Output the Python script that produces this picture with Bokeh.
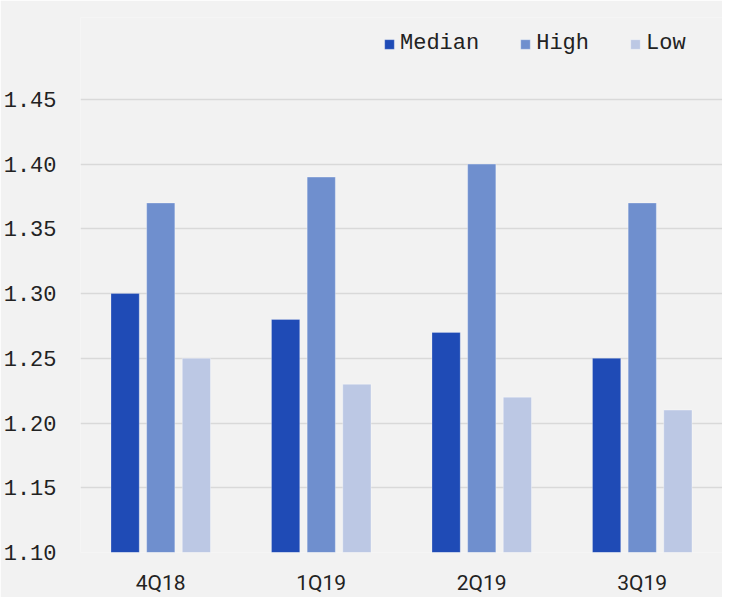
from bokeh.plotting import figure
from bokeh.models import ColumnDataSource, FactorRange, Range1d, FixedTicker, PrintfTickFormatter, Legend, LegendItem
from bokeh.transform import dodge
from bokeh.embed import file_html
from bokeh.resources import INLINE

quarters = ["4Q18", "1Q19", "2Q19", "3Q19"]
median = [1.30, 1.28, 1.27, 1.25]
high = [1.37, 1.39, 1.40, 1.37]
low = [1.25, 1.23, 1.22, 1.21]
y_ticks = [1.10, 1.15, 1.20, 1.25, 1.30, 1.35, 1.40, 1.45]

src = ColumnDataSource(dict(q=quarters, median=median, high=high, low=low))

BG = "#f2f2f2"
p = figure(x_range=FactorRange(*quarters, range_padding=0), y_range=Range1d(1.10, 1.5132),
           width=722, height=597, output_backend="svg", toolbar_location=None,
           background_fill_color=BG, border_fill_color=BG,
           min_border_left=75, min_border_right=0, min_border_top=17, min_border_bottom=44)
p.outline_line_color = None

bw = 0.176
r1 = p.vbar(x=dodge("q", -0.222, range=p.x_range), top="median", bottom=1.10, width=bw, source=src,
            fill_color="#1f4bb6", line_color="#ffffff", line_alpha=0.25)
r2 = p.vbar(x=dodge("q", 0.0, range=p.x_range), top="high", bottom=1.10, width=bw, source=src,
            fill_color="#6f8fce", line_color="#ffffff", line_alpha=0.35)
r3 = p.vbar(x=dodge("q", 0.222, range=p.x_range), top="low", bottom=1.10, width=bw, source=src,
            fill_color="#bcc8e4", line_color="#ffffff", line_alpha=0.35)

p.yaxis.ticker = FixedTicker(ticks=y_ticks)
p.yaxis.formatter = PrintfTickFormatter(format="%.2f")
p.yaxis.axis_line_color = None
p.yaxis.major_tick_line_color = None
p.yaxis.minor_tick_line_color = None
p.yaxis.major_label_text_font = "Liberation Mono"
p.yaxis.major_label_text_font_size = "22px"
p.yaxis.major_label_text_color = "#222222"
p.yaxis.major_label_standoff = 18

p.xaxis.axis_line_color = None
p.xaxis.major_tick_line_color = None
p.xaxis.major_label_text_font = "Roboto"
p.xaxis.major_label_text_font_size = "21px"
p.xaxis.major_label_text_color = "#222222"
p.xaxis.major_label_standoff = 12

p.xgrid.grid_line_color = None
p.ygrid.grid_line_color = "#d9d9d9"
p.ygrid.grid_line_width = 1.5

legend = Legend(items=[LegendItem(label="Median", renderers=[r1]),
                       LegendItem(label="High", renderers=[r2]),
                       LegendItem(label="Low", renderers=[r3])],
                orientation="horizontal", location=(303, 496))
legend.background_fill_alpha = 0
legend.border_line_color = None
legend.label_text_font = "Liberation Mono"
legend.label_text_font_size = "22px"
legend.label_text_color = "#222222"
legend.glyph_width = 12
legend.glyph_height = 12
legend.label_standoff = 5
legend.spacing = 40
legend.padding = 0
legend.margin = 0
p.add_layout(legend)

open("out.html", "w").write(file_html(p, INLINE))
